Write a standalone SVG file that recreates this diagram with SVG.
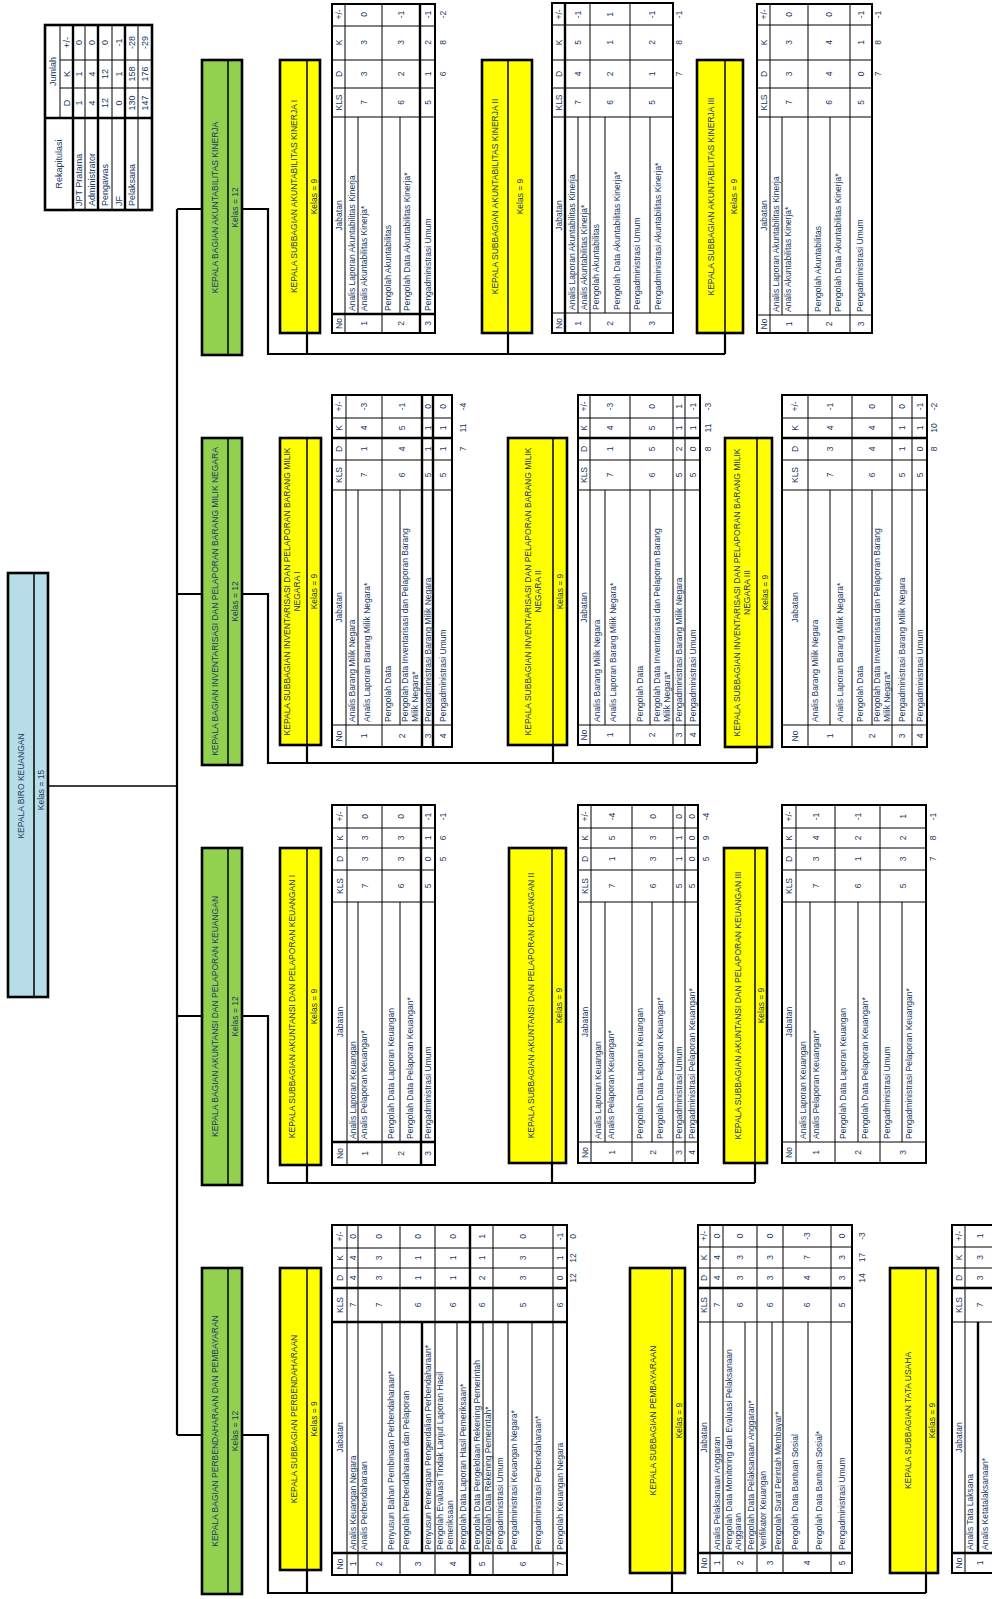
<svg xmlns="http://www.w3.org/2000/svg" width="992" height="1599" viewBox="0 0 992 1599">
<style>
text{font-family:"Liberation Sans",Arial,sans-serif;font-size:8.5px;fill:#203864;dominant-baseline:central}
.m{text-anchor:middle}
.lg text{font-size:9px}
.bx{stroke:#000;stroke-width:2.6}
.g{fill:#92d050}.y{fill:#ffff00}.b{fill:#b7dee8}
.dv{stroke:#000;stroke-width:1.5;fill:none}
.c{fill:none;stroke:#000;stroke-width:2.2}
.tb{fill:#fff;stroke:#000;stroke-width:2}
.l{stroke:#000;stroke-width:1;fill:none}
.L{stroke:#000;stroke-width:2.4;fill:none}
</style>
<rect width="992" height="1599" fill="#fff"/>

<g id="connectors">
<path class="dv" d="M48 786H177"/>
<path class="c" d="M177 209V1435M177 209H202M177 594H202M177 1016H202M177 1435H202"/>
<path class="c" d="M242 209H268V354H725M307 333V354M508 333V354M725 333V354"/>
<path class="c" d="M242 594H268V763H757M307 745V763M553 745V763M757 747V763"/>
<path class="c" d="M242 1016H268V1183H755M307 1165V1183M552 1163V1183M755 1163V1183"/>
<path class="c" d="M242 1435H268V1593H926M307 1570V1593M672 1573V1593M926 1573V1593"/>
</g>

<g id="legend" class="lg">
<rect x="45" y="25" width="107" height="185" fill="#fff" stroke="#000" stroke-width="2.6"/>
<path class="l" d="M60 25V118M60 60H152M60 88H152M85 25V210M112 25V210M138 25V210"/>
<path class="L" d="M73 25V210M98 25V210M125 25V210M45 118H152"/>
<g transform="rotate(-90)">
<g class="m">
<text x="-71.5" y="52.5">Jumlah</text><text x="-103" y="66.5">D</text><text x="-74" y="66.5">K</text><text x="-42.5" y="66.5">+/-</text>
<text x="-164" y="59">Rekapitulasi</text>
<text x="-103" y="79">1</text><text x="-74" y="79">1</text><text x="-42.5" y="79">0</text>
<text x="-103" y="91.5">4</text><text x="-74" y="91.5">4</text><text x="-42.5" y="91.5">0</text>
<text x="-103" y="105">12</text><text x="-74" y="105">12</text><text x="-42.5" y="105">0</text>
<text x="-103" y="118.5">0</text><text x="-74" y="118.5">1</text><text x="-42.5" y="118.5">-1</text>
<text x="-103" y="131.5">130</text><text x="-74" y="131.5">158</text><text x="-42.5" y="131.5">-28</text>
<text x="-103" y="145">147</text><text x="-74" y="145">176</text><text x="-42.5" y="145">-29</text>
</g>
<text x="-206" y="79">JPT Pratama</text><text x="-206" y="91.5">Administrator</text><text x="-206" y="105">Pengawas</text><text x="-206" y="118.5">JF</text><text x="-206" y="131.5">Pelaksana</text>
</g>
</g>

<g id="root">
<rect x="8" y="573" width="40" height="424" class="bx b"/>
<path class="dv" d="M34 573V997"/>
<g transform="rotate(-90)" class="m"><text x="-786" y="21">KEPALA BIRO KEUANGAN</text><text x="-790" y="41">Kelas = 15</text></g>
</g>

<!-- ROW 1 -->
<g id="bag-akuntabilitas">
<rect x="202" y="60" width="40" height="295" class="bx g"/><path class="dv" d="M228 60V355"/>
<g transform="rotate(-90)" class="m"><text x="-207.5" y="215">KEPALA BAGIAN AKUNTABILITAS KINERJA</text><text x="-207.5" y="235">Kelas = 12</text></g>
</g>
<g id="sub-ak1">
<rect x="280" y="60" width="40" height="273" class="bx y"/><path class="dv" d="M307 60V333"/>
<g transform="rotate(-90)" class="m"><text x="-196.5" y="293.5">KEPALA SUBBAGIAN AKUNTABILITAS KINERJA I</text><text x="-196.5" y="313.5">Kelas = 9</text></g>
</g>
<g id="sub-ak2">
<rect x="482" y="60" width="50" height="273" class="bx y"/><path class="dv" d="M508 60V333"/>
<g transform="rotate(-90)" class="m"><text x="-196.5" y="495">KEPALA SUBBAGIAN AKUNTABILITAS KINERJA II</text><text x="-196.5" y="520">Kelas = 9</text></g>
</g>
<g id="sub-ak3">
<rect x="697" y="60" width="46" height="273" class="bx y"/><path class="dv" d="M725 60V333"/>
<g transform="rotate(-90)" class="m"><text x="-196.5" y="711">KEPALA SUBBAGIAN AKUNTABILITAS KINERJA III</text><text x="-196.5" y="734">Kelas = 9</text></g>
</g>

<g id="tbl-ak1">
<rect x="332" y="4" width="103" height="329" class="tb"/>
<path class="l" d="M345 4V333M382 4V333M332 26H435M332 60H435M332 88H435M332 117H435M358 117V314M400 117V314"/>
<path class="L" d="M420 4V333M332 314H435"/>
<g transform="rotate(-90)">
<g class="m">
<text x="-323.5" y="338.5">No</text><text x="-215.5" y="338.5">Jabatan</text><text x="-102.5" y="338.5">KLS</text><text x="-74" y="338.5">D</text><text x="-42.5" y="338.5">K</text><text x="-14.5" y="338.5">+/-</text>
<text x="-323.5" y="363.5">1</text><text x="-102.5" y="363.5">7</text><text x="-74" y="363.5">3</text><text x="-42.5" y="363.5">3</text><text x="-14.5" y="363.5">0</text>
<text x="-323.5" y="401">2</text><text x="-102.5" y="401">6</text><text x="-74" y="401">2</text><text x="-42.5" y="401">3</text><text x="-14.5" y="401">-1</text>
<text x="-323.5" y="427.5">3</text><text x="-102.5" y="427.5">5</text><text x="-74" y="427.5">1</text><text x="-42.5" y="427.5">2</text><text x="-14.5" y="427.5">-1</text>
<text x="-74" y="443">6</text><text x="-42.5" y="443">8</text><text x="-14.5" y="443">-2</text>
</g>
<text x="-311" y="351.5">Analis Laporan Akuntabilitas Kinerja</text>
<text x="-311" y="364">Analis Akuntabilitas Kinerja*</text>
<text x="-311" y="388">Pengolah Akuntabilitas</text>
<text x="-311" y="407">Pengolah Data Akuntabilitas Kinerja*</text>
<text x="-311" y="427.5">Pengadministrasi Umum</text>
</g>
</g>

<g id="tbl-ak2">
<rect x="552" y="3" width="121" height="330" class="tb"/>
<path class="l" d="M590 3V333M630 3V333M552 25H673M552 60H673M552 88H673M552 117H673M552 313H673M578 117V313M605 117V313M650 117V313"/>
<path class="L" d="M565 3V333"/>
<g transform="rotate(-90)">
<g class="m">
<text x="-323.5" y="558.5">No</text><text x="-215.5" y="558.5">Jabatan</text><text x="-102.5" y="558.5">KLS</text><text x="-74" y="558.5">D</text><text x="-42.5" y="558.5">K</text><text x="-14.5" y="558.5">+/-</text>
<text x="-323.5" y="577.5">1</text><text x="-102.5" y="577.5">7</text><text x="-74" y="577.5">4</text><text x="-42.5" y="577.5">5</text><text x="-14.5" y="577.5">-1</text>
<text x="-323.5" y="610">2</text><text x="-102.5" y="610">6</text><text x="-74" y="610">2</text><text x="-42.5" y="610">1</text><text x="-14.5" y="610">1</text>
<text x="-323.5" y="651.5">3</text><text x="-102.5" y="651.5">5</text><text x="-74" y="651.5">1</text><text x="-42.5" y="651.5">2</text><text x="-14.5" y="651.5">-1</text>
<text x="-74" y="679">7</text><text x="-42.5" y="679">8</text><text x="-14.5" y="679">-1</text>
</g>
<text x="-310" y="571.5">Analis Laporan Akuntabilitas Kinerja</text>
<text x="-310" y="584">Analis Akuntabilitas Kinerja*</text>
<text x="-310" y="596">Pengolah Akuntabilitas</text>
<text x="-310" y="617">Pengolah Data Akuntabilitas Kinerja*</text>
<text x="-310" y="637">Pengadministrasi Umum</text>
<text x="-310" y="658">Pengadministrasi Akuntabilitas Kinerja*</text>
</g>
</g>

<g id="tbl-ak3">
<rect x="757" y="4" width="115" height="329" class="tb"/>
<path class="l" d="M770 4V333M808 4V333M850 4V333M757 25H872M757 60H872M757 88H872M757 117H872M757 315H872M782 117V315M830 117V315"/>
<g transform="rotate(-90)">
<g class="m">
<text x="-324" y="763.5">No</text><text x="-215.5" y="763.5">Jabatan</text><text x="-102.5" y="763.5">KLS</text><text x="-74" y="763.5">D</text><text x="-42.5" y="763.5">K</text><text x="-14.5" y="763.5">+/-</text>
<text x="-324" y="789">1</text><text x="-102.5" y="789">7</text><text x="-74" y="789">3</text><text x="-42.5" y="789">3</text><text x="-14.5" y="789">0</text>
<text x="-324" y="829">2</text><text x="-102.5" y="829">6</text><text x="-74" y="829">4</text><text x="-42.5" y="829">4</text><text x="-14.5" y="829">0</text>
<text x="-324" y="861">3</text><text x="-102.5" y="861">5</text><text x="-74" y="861">0</text><text x="-42.5" y="861">1</text><text x="-14.5" y="861">-1</text>
<text x="-74" y="878">7</text><text x="-42.5" y="878">8</text><text x="-14.5" y="878">-1</text>
</g>
<text x="-312" y="776">Analis Laporan Akuntabilitas Kinerja</text>
<text x="-312" y="788">Analis Akuntabilitas Kinerja*</text>
<text x="-312" y="818">Pengolah Akuntabilitas</text>
<text x="-312" y="838">Pengolah Data Akuntabilitas Kinerja*</text>
<text x="-312" y="860">Pengadministrasi Umum</text>
</g>
</g>

<!-- ROW 2 -->
<g id="bag-bmn">
<rect x="202" y="438" width="40" height="327" class="bx g"/><path class="dv" d="M228 438V765"/>
<g transform="rotate(-90)" class="m"><text x="-601.5" y="215">KEPALA BAGIAN INVENTARISASI DAN PELAPORAN BARANG MILIK NEGARA</text><text x="-601.5" y="235">Kelas = 12</text></g>
</g>
<g id="sub-bmn1">
<rect x="280" y="438" width="41" height="307" class="bx y"/><path class="dv" d="M307 438V745"/>
<g transform="rotate(-90)" class="m"><text x="-591.5" y="287">KEPALA SUBBAGIAN INVENTARISASI DAN PELAPORAN BARANG MILIK</text><text x="-591.5" y="297">NEGARA I</text><text x="-591.5" y="314">Kelas = 9</text></g>
</g>
<g id="sub-bmn2">
<rect x="508" y="438" width="59" height="307" class="bx y"/><path class="dv" d="M553 438V745"/>
<g transform="rotate(-90)" class="m"><text x="-591.5" y="528">KEPALA SUBBAGIAN INVENTARISASI DAN PELAPORAN BARANG MILIK</text><text x="-591.5" y="538">NEGARA II</text><text x="-591.5" y="560">Kelas = 9</text></g>
</g>
<g id="sub-bmn3">
<rect x="725" y="438" width="47" height="309" class="bx y"/><path class="dv" d="M757 438V747"/>
<g transform="rotate(-90)" class="m"><text x="-592.5" y="737">KEPALA SUBBAGIAN INVENTARISASI DAN PELAPORAN BARANG MILIK</text><text x="-592.5" y="747">NEGARA III</text><text x="-592.5" y="764.5">Kelas = 9</text></g>
</g>

<g id="tbl-bmn1">
<rect x="332" y="395" width="120" height="352" class="tb"/>
<path class="l" d="M346 395V747M382 395V747M332 418H452M332 460H452M332 490H452M332 725H452M358 490V725M400 490V725"/>
<path class="L" d="M422 395V747M433 395V747M332 438H452"/>
<g transform="rotate(-90)">
<g class="m">
<text x="-736" y="339">No</text><text x="-607.5" y="339">Jabatan</text><text x="-475" y="339">KLS</text><text x="-449" y="339">D</text><text x="-428" y="339">K</text><text x="-406.5" y="339">+/-</text>
<text x="-736" y="364">1</text><text x="-475" y="364">7</text><text x="-449" y="364">1</text><text x="-428" y="364">4</text><text x="-406.5" y="364">-3</text>
<text x="-736" y="402">2</text><text x="-475" y="402">6</text><text x="-449" y="402">4</text><text x="-428" y="402">5</text><text x="-406.5" y="402">-1</text>
<text x="-736" y="427.5">3</text><text x="-475" y="427.5">5</text><text x="-449" y="427.5">1</text><text x="-428" y="427.5">1</text><text x="-406.5" y="427.5">0</text>
<text x="-736" y="442.5">4</text><text x="-475" y="442.5">5</text><text x="-449" y="442.5">1</text><text x="-428" y="442.5">1</text><text x="-406.5" y="442.5">0</text>
<text x="-449" y="463">7</text><text x="-428" y="463">11</text><text x="-406.5" y="463">-4</text>
</g>
<text x="-722" y="352">Analis Barang Milik Negara</text>
<text x="-722" y="367">Analis Laporan Barang Milik Negara*</text>
<text x="-722" y="388">Pengolah Data</text>
<text x="-722" y="405">Pengolah Data Inventarisasi dan Pelaporan Barang</text>
<text x="-722" y="415">Milik Negara*</text>
<text x="-722" y="427.5">Pengadministrasi Barang Milik Negara</text>
<text x="-722" y="442.5">Pengadministrasi Umum</text>
</g>
</g>

<g id="tbl-bmn2">
<rect x="578" y="395" width="122" height="350" class="tb"/>
<path class="l" d="M590 395V745M630 395V745M673 395V745M685 395V745M578 418H700M578 460H700M578 490H700M578 725H700M605 490V725M650 490V725"/>
<path class="L" d="M578 438H700"/>
<g transform="rotate(-90)">
<g class="m">
<text x="-735" y="584">No</text><text x="-607.5" y="584">Jabatan</text><text x="-475" y="584">KLS</text><text x="-449" y="584">D</text><text x="-428" y="584">K</text><text x="-406.5" y="584">+/-</text>
<text x="-735" y="610">1</text><text x="-475" y="610">7</text><text x="-449" y="610">1</text><text x="-428" y="610">4</text><text x="-406.5" y="610">-3</text>
<text x="-735" y="651.5">2</text><text x="-475" y="651.5">6</text><text x="-449" y="651.5">5</text><text x="-428" y="651.5">5</text><text x="-406.5" y="651.5">0</text>
<text x="-735" y="679">3</text><text x="-475" y="679">5</text><text x="-449" y="679">2</text><text x="-428" y="679">1</text><text x="-406.5" y="679">1</text>
<text x="-735" y="692.5">4</text><text x="-475" y="692.5">5</text><text x="-449" y="692.5">0</text><text x="-428" y="692.5">1</text><text x="-406.5" y="692.5">-1</text>
<text x="-449" y="708">8</text><text x="-428" y="708">11</text><text x="-406.5" y="708">-3</text>
</g>
<text x="-722" y="597">Analis Barang Milik Negara</text>
<text x="-722" y="613">Analis Laporan Barang Milik Negara*</text>
<text x="-722" y="640">Pengolah Data</text>
<text x="-722" y="657">Pengolah Data Inventarisasi dan Pelaporan Barang</text>
<text x="-722" y="667">Milik Negara*</text>
<text x="-722" y="679">Pengadministrasi Barang Milik Negara</text>
<text x="-722" y="692.5">Pengadministrasi Umum</text>
</g>
</g>

<g id="tbl-bmn3">
<rect x="782" y="395" width="145" height="352" class="tb"/>
<path class="l" d="M808 395V747M852 395V747M892 395V747M912 395V747M782 418H927M782 460H927M782 490H927M782 725H927M830 490V725M872 490V725"/>
<path class="L" d="M782 438H927"/>
<g transform="rotate(-90)">
<g class="m">
<text x="-736" y="795">No</text><text x="-607.5" y="795">Jabatan</text><text x="-475" y="795">KLS</text><text x="-449" y="795">D</text><text x="-428" y="795">K</text><text x="-406.5" y="795">+/-</text>
<text x="-736" y="830">1</text><text x="-475" y="830">7</text><text x="-449" y="830">3</text><text x="-428" y="830">4</text><text x="-406.5" y="830">-1</text>
<text x="-736" y="872">2</text><text x="-475" y="872">6</text><text x="-449" y="872">4</text><text x="-428" y="872">4</text><text x="-406.5" y="872">0</text>
<text x="-736" y="902">3</text><text x="-475" y="902">5</text><text x="-449" y="902">1</text><text x="-428" y="902">1</text><text x="-406.5" y="902">0</text>
<text x="-736" y="919.5">4</text><text x="-475" y="919.5">5</text><text x="-449" y="919.5">0</text><text x="-428" y="919.5">1</text><text x="-406.5" y="919.5">-1</text>
<text x="-449" y="934">8</text><text x="-428" y="934">10</text><text x="-406.5" y="934">-2</text>
</g>
<text x="-722" y="815">Analis Barang Milik Negara</text>
<text x="-722" y="840">Analis Laporan Barang Milik Negara*</text>
<text x="-722" y="860">Pengolah Data</text>
<text x="-722" y="877">Pengolah Data Inventarisasi dan Pelaporan Barang</text>
<text x="-722" y="887">Milik Negara*</text>
<text x="-722" y="902">Pengadministrasi Barang Milik Negara</text>
<text x="-722" y="919.5">Pengadministrasi Umum</text>
</g>
</g>

<!-- ROW 3 -->
<g id="bag-akuntansi">
<rect x="202" y="848" width="40" height="337" class="bx g"/><path class="dv" d="M228 848V1185"/>
<g transform="rotate(-90)" class="m"><text x="-1016.5" y="215">KEPALA BAGIAN AKUNTANSI DAN PELAPORAN KEUANGAN</text><text x="-1016.5" y="235">Kelas = 12</text></g>
</g>
<g id="sub-akt1">
<rect x="280" y="848" width="41" height="317" class="bx y"/><path class="dv" d="M307 848V1165"/>
<g transform="rotate(-90)" class="m"><text x="-1006.5" y="292">KEPALA SUBBAGIAN AKUNTANSI DAN PELAPORAN KEUANGAN I</text><text x="-1006.5" y="314">Kelas = 9</text></g>
</g>
<g id="sub-akt2">
<rect x="509" y="848" width="57" height="315" class="bx y"/><path class="dv" d="M552 848V1163"/>
<g transform="rotate(-90)" class="m"><text x="-1005.5" y="531">KEPALA SUBBAGIAN AKUNTANSI DAN PELAPORAN KEUANGAN II</text><text x="-1005.5" y="559">Kelas = 9</text></g>
</g>
<g id="sub-akt3">
<rect x="724" y="848" width="43" height="315" class="bx y"/><path class="dv" d="M755 848V1163"/>
<g transform="rotate(-90)" class="m"><text x="-1005.5" y="738">KEPALA SUBBAGIAN AKUNTANSI DAN PELAPORAN KEUANGAN III</text><text x="-1005.5" y="761">Kelas = 9</text></g>
</g>

<g id="tbl-akt1">
<rect x="332" y="805" width="103" height="360" class="tb"/>
<path class="l" d="M347 805V1165M382 805V1165M332 828H435M332 848H435M332 870H435M332 902H435M358 902V1142M400 902V1142"/>
<path class="L" d="M421 805V1165M332 1142H435"/>
<g transform="rotate(-90)">
<g class="m">
<text x="-1153.5" y="339.5">No</text><text x="-1022" y="339.5">Jabatan</text><text x="-886" y="339.5">KLS</text><text x="-859" y="339.5">D</text><text x="-838" y="339.5">K</text><text x="-816.5" y="339.5">+/-</text>
<text x="-1153.5" y="364.5">1</text><text x="-886" y="364.5">7</text><text x="-859" y="364.5">3</text><text x="-838" y="364.5">3</text><text x="-816.5" y="364.5">0</text>
<text x="-1153.5" y="401">2</text><text x="-886" y="401">6</text><text x="-859" y="401">3</text><text x="-838" y="401">3</text><text x="-816.5" y="401">0</text>
<text x="-1153.5" y="428">3</text><text x="-886" y="428">5</text><text x="-859" y="428">0</text><text x="-838" y="428">1</text><text x="-816.5" y="428">-1</text>
<text x="-859" y="443">5</text><text x="-838" y="443">6</text><text x="-816.5" y="443">-1</text>
</g>
<text x="-1139" y="352.5">Analis Laporan Keuangan</text>
<text x="-1139" y="364">Analis Pelaporan Keuangan*</text>
<text x="-1139" y="391">Pengolah Data Laporan Keuangan</text>
<text x="-1139" y="410">Pengolah Data Pelaporan Keuangan*</text>
<text x="-1139" y="428">Pengadministrasi Umum</text>
</g>
</g>

<g id="tbl-akt2">
<rect x="578" y="805" width="120" height="358" class="tb"/>
<path class="l" d="M591 805V1163M632 805V1163M673 805V1163M685 805V1163M578 828H698M578 848H698M578 870H698M578 902H698M578 1142H698M605 902V1142M652 902V1142"/>
<g transform="rotate(-90)">
<g class="m">
<text x="-1152.5" y="584.5">No</text><text x="-1022" y="584.5">Jabatan</text><text x="-886" y="584.5">KLS</text><text x="-859" y="584.5">D</text><text x="-838" y="584.5">K</text><text x="-816.5" y="584.5">+/-</text>
<text x="-1152.5" y="611.5">1</text><text x="-886" y="611.5">7</text><text x="-859" y="611.5">1</text><text x="-838" y="611.5">5</text><text x="-816.5" y="611.5">-4</text>
<text x="-1152.5" y="652.5">2</text><text x="-886" y="652.5">6</text><text x="-859" y="652.5">3</text><text x="-838" y="652.5">3</text><text x="-816.5" y="652.5">0</text>
<text x="-1152.5" y="679">3</text><text x="-886" y="679">5</text><text x="-859" y="679">1</text><text x="-838" y="679">1</text><text x="-816.5" y="679">0</text>
<text x="-1152.5" y="691.5">4</text><text x="-886" y="691.5">5</text><text x="-859" y="691.5">0</text><text x="-838" y="691.5">0</text><text x="-816.5" y="691.5">0</text>
<text x="-859" y="706">5</text><text x="-838" y="706">9</text><text x="-816.5" y="706">-4</text>
</g>
<text x="-1139" y="598">Analis Laporan Keuangan</text>
<text x="-1139" y="611">Analis Pelaporan Keuangan*</text>
<text x="-1139" y="640">Pengolah Data Laporan Keuangan</text>
<text x="-1139" y="660">Pengolah Data Pelaporan Keuangan*</text>
<text x="-1139" y="679">Pengadministrasi Umum</text>
<text x="-1139" y="691.5">Pengadministrasi Pelaporan Keuangan*</text>
</g>
</g>

<g id="tbl-akt3">
<rect x="782" y="805" width="144" height="358" class="tb"/>
<path class="l" d="M796 805V1163M835 805V1163M880 805V1163M782 828H926M782 848H926M782 870H926M782 902H926M782 1142H926M810 902V1142M858 902V1142M902 902V1142"/>
<g transform="rotate(-90)">
<g class="m">
<text x="-1152.5" y="789">No</text><text x="-1022" y="789">Jabatan</text><text x="-886" y="789">KLS</text><text x="-859" y="789">D</text><text x="-838" y="789">K</text><text x="-816.5" y="789">+/-</text>
<text x="-1152.5" y="816">1</text><text x="-886" y="816">7</text><text x="-859" y="816">3</text><text x="-838" y="816">4</text><text x="-816.5" y="816">-1</text>
<text x="-1152.5" y="858">2</text><text x="-886" y="858">6</text><text x="-859" y="858">1</text><text x="-838" y="858">2</text><text x="-816.5" y="858">-1</text>
<text x="-1152.5" y="903">3</text><text x="-886" y="903">5</text><text x="-859" y="903">3</text><text x="-838" y="903">2</text><text x="-816.5" y="903">1</text>
<text x="-859" y="933">7</text><text x="-838" y="933">8</text><text x="-816.5" y="933">-1</text>
</g>
<text x="-1139" y="803">Analis Laporan Keuangan</text>
<text x="-1139" y="816">Analis Pelaporan Keuangan*</text>
<text x="-1139" y="843">Pengolah Data Laporan Keuangan</text>
<text x="-1139" y="865">Pengolah Data Pelaporan Keuangan*</text>
<text x="-1139" y="887">Pengadministrasi Umum</text>
<text x="-1139" y="909">Pengadministrasi Pelaporan Keuangan*</text>
</g>
</g>

<!-- ROW 4 -->
<g id="bag-perbendaharaan">
<rect x="202" y="1268" width="40" height="326" class="bx g"/><path class="dv" d="M228 1268V1594"/>
<g transform="rotate(-90)" class="m"><text x="-1431" y="215">KEPALA BAGIAN PERBENDAHARAAN DAN PEMBAYARAN</text><text x="-1431" y="235">Kelas = 12</text></g>
</g>
<g id="sub-perb">
<rect x="280" y="1268" width="41" height="302" class="bx y"/><path class="dv" d="M307 1268V1570"/>
<g transform="rotate(-90)" class="m"><text x="-1419" y="293.5">KEPALA SUBBAGIAN PERBENDAHARAAN</text><text x="-1419" y="314">Kelas = 9</text></g>
</g>
<g id="sub-pemb">
<rect x="630" y="1268" width="55" height="305" class="bx y"/><path class="dv" d="M672 1268V1573"/>
<g transform="rotate(-90)" class="m"><text x="-1420.5" y="653">KEPALA SUBBAGIAN PEMBAYARAAN</text><text x="-1420.5" y="678.5">Kelas = 9</text></g>
</g>
<g id="sub-tu">
<rect x="890" y="1268" width="48" height="305" class="bx y"/><path class="dv" d="M926 1268V1573"/>
<g transform="rotate(-90)" class="m"><text x="-1420.5" y="908">KEPALA SUBBAGIAN TATA USAHA</text><text x="-1420.5" y="932">Kelas = 9</text></g>
</g>

<g id="tbl-perb">
<rect x="332" y="1225" width="235" height="350" class="tb"/>
<path class="l" d="M347 1225V1575M358 1225V1575M400 1225V1575M435 1225V1575M493 1225V1575M553 1225V1575M332 1248H567M332 1268H567M382 1322V1553M457 1322V1553M483 1322V1553M508 1322V1553M532 1322V1553"/>
<path class="L" d="M470 1225V1575M332 1288H567M332 1322H567M332 1553H567M422 1322V1553"/>
<g transform="rotate(-90)">
<g class="m">
<text x="-1564" y="339.5">No</text><text x="-1437.5" y="339.5">Jabatan</text><text x="-1305" y="339.5">KLS</text><text x="-1278" y="339.5">D</text><text x="-1258" y="339.5">K</text><text x="-1236.5" y="339.5">+/-</text>
<text x="-1564" y="352.5">1</text><text x="-1305" y="352.5">7</text><text x="-1278" y="352.5">4</text><text x="-1258" y="352.5">4</text><text x="-1236.5" y="352.5">0</text>
<text x="-1564" y="379">2</text><text x="-1305" y="379">7</text><text x="-1278" y="379">3</text><text x="-1258" y="379">3</text><text x="-1236.5" y="379">0</text>
<text x="-1564" y="417.5">3</text><text x="-1305" y="417.5">6</text><text x="-1278" y="417.5">1</text><text x="-1258" y="417.5">1</text><text x="-1236.5" y="417.5">0</text>
<text x="-1564" y="452.5">4</text><text x="-1305" y="452.5">6</text><text x="-1278" y="452.5">1</text><text x="-1258" y="452.5">1</text><text x="-1236.5" y="452.5">0</text>
<text x="-1564" y="481.5">5</text><text x="-1305" y="481.5">6</text><text x="-1278" y="481.5">2</text><text x="-1258" y="481.5">1</text><text x="-1236.5" y="481.5">1</text>
<text x="-1564" y="523">6</text><text x="-1305" y="523">5</text><text x="-1278" y="523">3</text><text x="-1258" y="523">3</text><text x="-1236.5" y="523">0</text>
<text x="-1564" y="560">7</text><text x="-1305" y="560">6</text><text x="-1278" y="560">0</text><text x="-1258" y="560">1</text><text x="-1236.5" y="560">-1</text>
<text x="-1278" y="573">12</text><text x="-1258" y="573">12</text><text x="-1236.5" y="573">0</text>
</g>
<text x="-1550" y="352.5">Analis Keuangan Negara</text>
<text x="-1550" y="364">Analis Perbendaharaan</text>
<text x="-1550" y="391">Penyusun Bahan Pembinaan Perbendaharaan*</text>
<text x="-1550" y="406">Pengolah Perbendaharaan dan Pelaporan</text>
<text x="-1550" y="428">Penyusun Penerapan Pengendalian Perbendaharaan*</text>
<text x="-1550" y="440">Pengolah Evaluasi Tindak Lanjut Laporan Hasil</text>
<text x="-1550" y="450">Pemeriksaan</text>
<text x="-1550" y="463">Pengolah Data Laporan Hasil Pemeriksaan*</text>
<text x="-1550" y="476.5">Pengolah Data Pengelolaan Rekening Pemerintah</text>
<text x="-1550" y="488">Pengolah Data Rekening Pemerintah*</text>
<text x="-1550" y="500">Pengadministrasi Umum</text>
<text x="-1550" y="514">Pengadministrasi Keuangan Negara*</text>
<text x="-1550" y="538">Pengadministrasi Perbendaharaan*</text>
<text x="-1550" y="560">Pengolah Keuangan Negara</text>
</g>
</g>

<g id="tbl-pemb">
<rect x="698" y="1225" width="154" height="348" class="tb"/>
<path class="l" d="M710 1225V1573M723 1225V1573M757 1225V1573M783 1225V1573M831 1225V1573M698 1247H852M698 1268H852M698 1322H852M745 1322V1553M772 1322V1553M808 1322V1553"/>
<path class="L" d="M698 1288H852M698 1553H852"/>
<g transform="rotate(-90)">
<g class="m">
<text x="-1563" y="704">No</text><text x="-1437.5" y="704">Jabatan</text><text x="-1305" y="704">KLS</text><text x="-1278" y="704">D</text><text x="-1257.5" y="704">K</text><text x="-1236" y="704">+/-</text>
<text x="-1563" y="716.5">1</text><text x="-1305" y="716.5">7</text><text x="-1278" y="716.5">4</text><text x="-1257.5" y="716.5">4</text><text x="-1236" y="716.5">0</text>
<text x="-1563" y="740">2</text><text x="-1305" y="740">6</text><text x="-1278" y="740">3</text><text x="-1257.5" y="740">3</text><text x="-1236" y="740">0</text>
<text x="-1563" y="770">3</text><text x="-1305" y="770">6</text><text x="-1278" y="770">3</text><text x="-1257.5" y="770">3</text><text x="-1236" y="770">0</text>
<text x="-1563" y="807">4</text><text x="-1305" y="807">6</text><text x="-1278" y="807">4</text><text x="-1257.5" y="807">7</text><text x="-1236" y="807">-3</text>
<text x="-1563" y="841.5">5</text><text x="-1305" y="841.5">5</text><text x="-1278" y="841.5">3</text><text x="-1257.5" y="841.5">3</text><text x="-1236" y="841.5">0</text>
<text x="-1278" y="862">14</text><text x="-1257.5" y="862">17</text><text x="-1236" y="862">-3</text>
</g>
<text x="-1550" y="716.5">Analis Pelaksanaan Anggaran</text>
<text x="-1550" y="729">Pengolah Data Monitoring dan Evaluasi Pelaksanaan</text>
<text x="-1550" y="738">Anggaran</text>
<text x="-1550" y="751">Pengolah Data Pelaksanaan Anggaran*</text>
<text x="-1550" y="763">Verifikator Keuangan</text>
<text x="-1550" y="777.5">Pengolah Surat Perintah Membayar*</text>
<text x="-1550" y="795">Pengolah Data Bantuan Sosial</text>
<text x="-1550" y="819">Pengolah Data Bantuan Sosial*</text>
<text x="-1550" y="841.5">Pengadministrasi Umum</text>
</g>
</g>

<g id="tbl-tu">
<rect x="952" y="1225" width="60" height="348" class="tb"/>
<path class="l" d="M965 1225V1573M952 1247H1000M952 1268H1000M952 1322H1000"/>
<path class="L" d="M952 1288H1000M952 1553H1000M978 1322V1553"/>
<g transform="rotate(-90)">
<g class="m">
<text x="-1563" y="958.5">No</text><text x="-1437.5" y="958.5">Jabatan</text><text x="-1305" y="958.5">KLS</text><text x="-1278" y="958.5">D</text><text x="-1257.5" y="958.5">K</text><text x="-1236" y="958.5">+/-</text>
<text x="-1563" y="980">1</text><text x="-1305" y="980">7</text><text x="-1278" y="980">3</text><text x="-1257.5" y="980">3</text><text x="-1236" y="980">1</text>
</g>
<text x="-1550" y="970">Analis Tata Laksana</text>
<text x="-1550" y="985">Analis Ketatalaksanaan*</text>
</g>
</g>
</svg>
